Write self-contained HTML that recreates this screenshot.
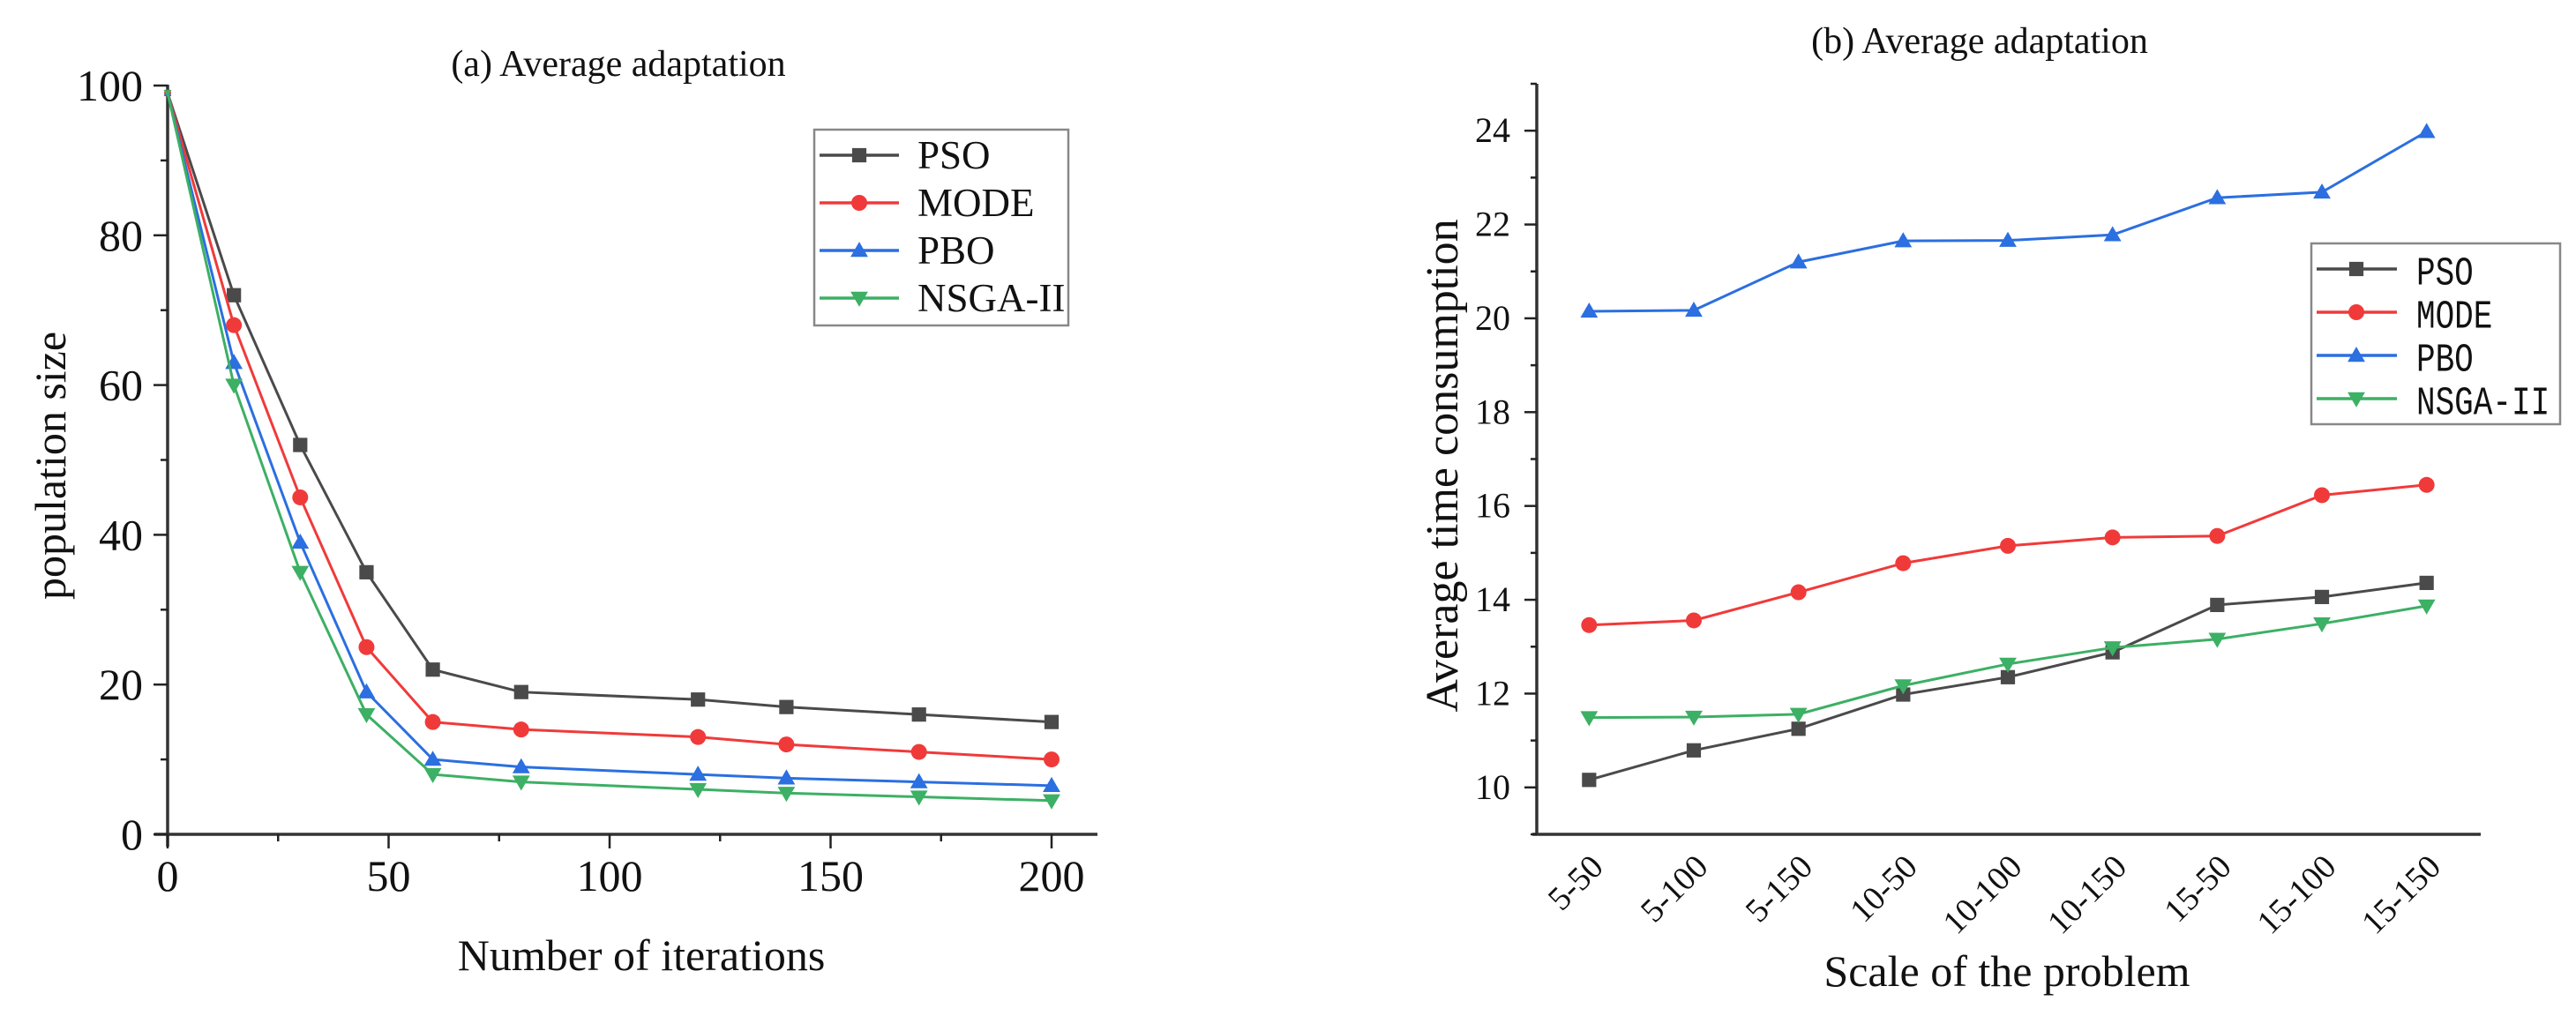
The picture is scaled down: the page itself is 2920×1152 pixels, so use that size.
<!DOCTYPE html>
<html><head><meta charset="utf-8"><style>
html,body{margin:0;padding:0;background:#fff;overflow:hidden;}
svg{display:block;font-family:"Liberation Serif",serif;}
</style></head><body>
<svg id="chart" width="2920" height="1152" viewBox="0 0 2920 1152"></svg>
<script>
const xA = [0,15,30,45,60,80,120,140,170,200];
const psoA = [99,72,52,35,22,19,18,17,16,15];
const modeA = [99,68,45,25,15,14,13,12,11,10];
const pboA = [99,63,39,19,10,9,8,7.5,7,6.5];
const nsgaA = [99,60,35,16,8,7,6,5.5,5,4.5];
const xTicksA = [0,50,100,150,200];
const yTicksA = [0,20,40,60,80,100];

const catsB = ["5-50","5-100","5-150","10-50","10-100","10-150","15-50","15-100","15-150"];
const pboB = [20.15,20.17,21.2,21.65,21.66,21.78,22.57,22.69,23.98];
const modeB = [13.46,13.56,14.16,14.78,15.15,15.33,15.36,16.23,16.45];
const psoB = [10.16,10.79,11.25,11.98,12.35,12.88,13.89,14.06,14.36];
const nsgaB = [11.49,11.5,11.56,12.17,12.63,12.98,13.16,13.49,13.87];
const yTicksB = [10,12,14,16,18,20,22,24];
const seriesNames = ["PSO","MODE","PBO","NSGA-II"];

const COLORS = ["#4a4a4a","#f03a3a","#2b6fe0","#3cb064"];
const MARKS = ["square","circle","up","down"];
const NS = "http://www.w3.org/2000/svg";
const svg = document.getElementById("chart");
function mk(tag, attrs, parent){const e=document.createElementNS(NS,tag);for(const k in attrs)e.setAttribute(k,attrs[k]);(parent||svg).appendChild(e);return e;}
function marker(g, type, x, y, c, s){
  s = s||1; let e;
  if(type==="square") e=mk("rect",{x:x-9*s,y:y-9*s,width:18*s,height:18*s,fill:c},g);
  else if(type==="circle") e=mk("circle",{cx:x,cy:y,r:10*s,fill:c},g);
  else if(type==="up") e=mk("polygon",{points:`${x},${y-11*s} ${x+11*s},${y+8*s} ${x-11*s},${y+8*s}`,fill:c},g);
  else e=mk("polygon",{points:`${x},${y+11*s} ${x+11*s},${y-8*s} ${x-11*s},${y-8*s}`,fill:c},g);
  return e;
}
function text(s, x, y, size, attrs, parent){const t=mk("text",Object.assign({x:x,y:y,"font-size":size,fill:"#111"},attrs||{}),parent);t.textContent=s;return t;}

// ---------- Chart A ----------
const gA = mk("g",{});


const axA = {x0:190,x1:1192,y0:946,y1:97};
const sxA = v => axA.x0 + (v-0)/(200-0)*(axA.x1-axA.x0);
const syA = v => axA.y0 - (v-0)/(100-0)*(axA.y0-axA.y1);
const tA = text("(a) Average adaptation",701,86,42,{"text-anchor":"middle"},gA);


const yaxA = mk("line",{x1:190,y1:96,x2:190,y2:960,stroke:"#333","stroke-width":3.5},gA);


const xaxA = mk("line",{x1:175,y1:946,x2:1244,y2:946,stroke:"#333","stroke-width":3.5},gA);


for(let v=0; v<=100; v+=10){const y=syA(v);mk("line",{x1:190-(v%20===0?16:8),y1:y,x2:190,y2:y,stroke:"#222","stroke-width":2.5},gA);}
for(let v=0; v<=210; v+=25){const x=sxA(v);mk("line",{x1:x,y1:946,x2:x,y2:946+(v%50===0?16:8),stroke:"#222","stroke-width":2.5},gA);}
yTicksA.forEach(v=>{const t=text(String(v),162,syA(v)+17,50,{"text-anchor":"end"},gA);
  
  });
xTicksA.forEach(v=>{const t=text(String(v),sxA(v),1010,50,{"text-anchor":"middle"},gA);
  
  });
const xlA = text("Number of iterations",727,1100,50,{"text-anchor":"middle"},gA);


const ylA = text("population size",74,528,50,{"text-anchor":"middle",transform:"rotate(-90 74 528)"},gA);


[psoA,modeA,pboA,nsgaA].forEach((arr,i)=>{
  const g=mk("g",{},gA);
  
  
  mk("polyline",{points:arr.map((v,j)=>sxA(xA[j])+","+syA(v)).join(" "),fill:"none",stroke:COLORS[i],"stroke-width":3},g);
  arr.forEach((v,j)=>{const m=marker(g,MARKS[i],sxA(xA[j]),syA(v),COLORS[i],j===0?0.4:0.9);
    
    });
});
const lgA = mk("g",{},gA);


mk("rect",{x:923,y:147,width:288,height:222,fill:"#fff",stroke:"#888","stroke-width":2.5},lgA);
seriesNames.forEach((n,i)=>{const y=176+i*54;
  const e=mk("g",{},lgA);
  
  
  mk("line",{x1:929,y1:y,x2:1019,y2:y,stroke:COLORS[i],"stroke-width":3.5},e);
  marker(e,MARKS[i],974,y,COLORS[i],0.9);
  text(n,1040,y+15,45,{},e);});

// ---------- Chart B ----------
const gB = mk("g",{});


const axB = {x0:1742,x1:2810,y0:946,y1:95};
const sxB = i => axB.x0 + ((i+1)-0.5)/9*(axB.x1-axB.x0);
const syB = v => axB.y0 - (v-9)/(25-9)*(axB.y0-axB.y1);
const tB = text("(b) Average adaptation",2244,60,42,{"text-anchor":"middle"},gB);


const yaxB = mk("line",{x1:1742,y1:95,x2:1742,y2:946,stroke:"#333","stroke-width":3.5},gB);


const xaxB = mk("line",{x1:1737,y1:946,x2:2812,y2:946,stroke:"#333","stroke-width":3.5},gB);


for(let v=9; v<=25; v+=1){const y=syB(v);mk("line",{x1:1742-(v%2===0?14:7),y1:y,x2:1742,y2:y,stroke:"#222","stroke-width":2.5},gB);}
yTicksB.forEach(v=>{const t=text(String(v),1712,syB(v)+13,40,{"text-anchor":"end"},gB);
  
  });
catsB.forEach((c,i)=>{const x=sxB(i)+18,y=985;
  const t=text(c,x,y,38,{"text-anchor":"end",transform:`rotate(-45 ${x} ${y})`},gB);
  
  });
const xlB = text("Scale of the problem",2275,1118,50,{"text-anchor":"middle"},gB);


const ylB = text("Average time consumption",1652,528,52,{"text-anchor":"middle",transform:"rotate(-90 1652 528)"},gB);


[psoB,modeB,pboB,nsgaB].forEach((arr,i)=>{
  const g=mk("g",{},gB);
  
  
  mk("polyline",{points:arr.map((v,j)=>sxB(j)+","+syB(v)).join(" "),fill:"none",stroke:COLORS[i],"stroke-width":3},g);
  arr.forEach((v,j)=>{const m=marker(g,MARKS[i],sxB(j),syB(v),COLORS[i],0.9);
    
    });
});
const lgB = mk("g",{},gB);


mk("rect",{x:2620,y:276,width:282,height:205,fill:"#fff",stroke:"#888","stroke-width":2.5},lgB);
seriesNames.forEach((n,i)=>{const y=305+i*49;
  const e=mk("g",{},lgB);
  
  
  mk("line",{x1:2626,y1:y,x2:2717,y2:y,stroke:COLORS[i],"stroke-width":3.5},e);
  marker(e,MARKS[i],2671,y,COLORS[i],0.9);
  text(n,2739,y+14,36,{"font-family":"Liberation Mono, monospace",transform:`translate(0 ${y}) scale(1 1.25) translate(0 ${-y})`},e);});
</script>
</body></html>
